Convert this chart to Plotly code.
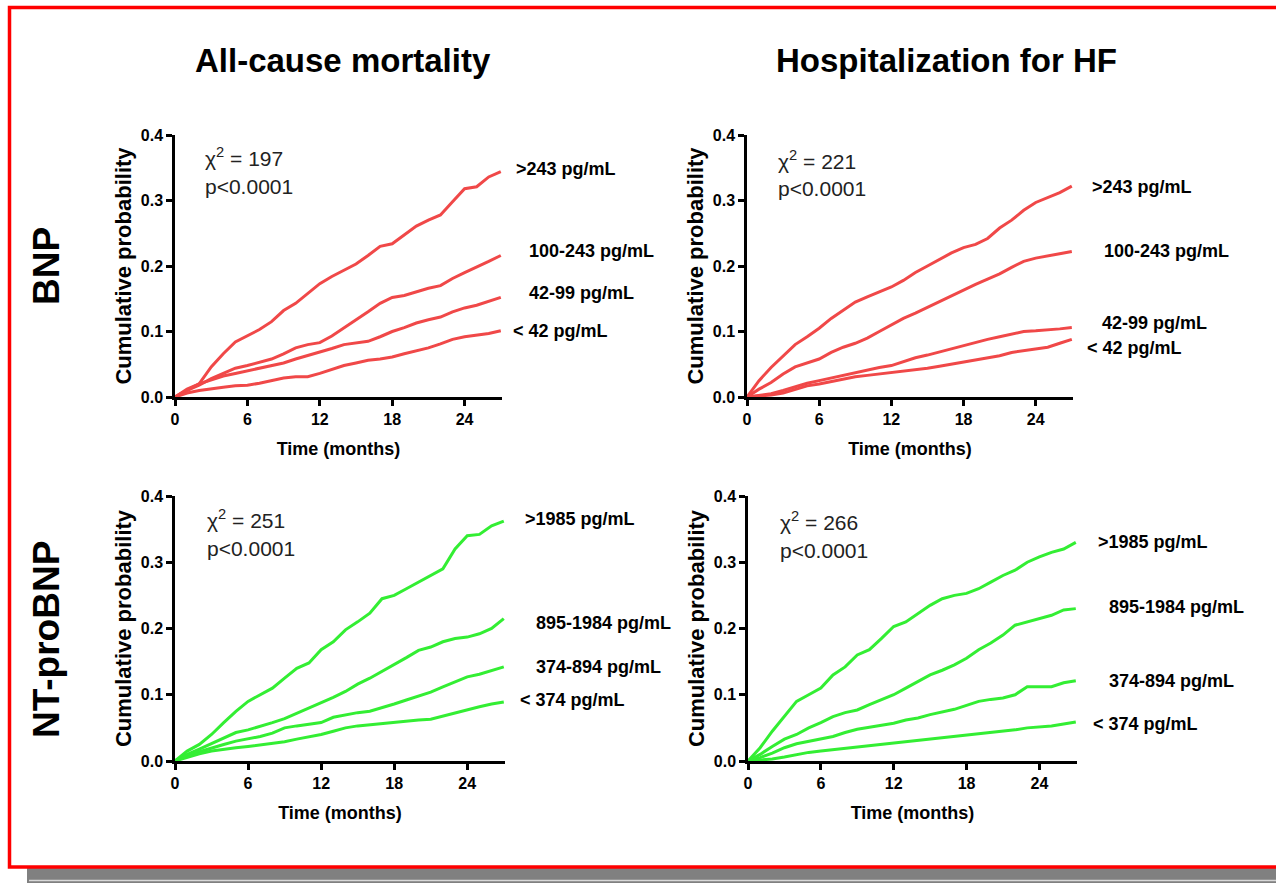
import plotly.graph_objects as go

# ---------------- data ----------------
months = [0, 1, 2, 3, 4, 5, 6, 7, 8, 9, 10, 11, 12, 13, 14, 15, 16, 17, 18, 19, 20,
          21, 22, 23, 24, 25, 26, 27]

# BNP - all-cause mortality
bnp_mort_gt243 = [0, 0.01, 0.02, 0.046, 0.066, 0.084, 0.094, 0.103, 0.115, 0.132, 0.143, 0.158,
                  0.173, 0.184, 0.193, 0.203, 0.216, 0.230, 0.234, 0.247, 0.261, 0.270, 0.278,
                  0.298, 0.318, 0.321, 0.336, 0.344]
bnp_mort_100_243 = [0, 0.01, 0.018, 0.028, 0.036, 0.044, 0.048, 0.053, 0.058, 0.066, 0.075, 0.080,
                    0.083, 0.093, 0.105, 0.118, 0.130, 0.143, 0.152, 0.155, 0.161, 0.166, 0.170,
                    0.181, 0.190, 0.198, 0.207, 0.216]
bnp_mort_42_99 = [0, 0.012, 0.020, 0.026, 0.032, 0.036, 0.040, 0.043, 0.047, 0.052, 0.058, 0.063,
                  0.068, 0.074, 0.080, 0.082, 0.085, 0.092, 0.100, 0.106, 0.113, 0.118, 0.122,
                  0.130, 0.136, 0.140, 0.146, 0.152]
bnp_mort_lt42 = [0, 0.006, 0.010, 0.013, 0.015, 0.017, 0.018, 0.021, 0.025, 0.029, 0.031, 0.031,
                 0.036, 0.042, 0.048, 0.052, 0.056, 0.058, 0.061, 0.066, 0.070, 0.075, 0.081,
                 0.088, 0.092, 0.094, 0.097, 0.101]

# BNP - hospitalization for HF
bnp_hosp_gt243 = [0, 0.025, 0.045, 0.063, 0.080, 0.092, 0.105, 0.120, 0.133, 0.145, 0.153, 0.160,
                  0.168, 0.178, 0.190, 0.200, 0.210, 0.220, 0.228, 0.233, 0.242, 0.258, 0.270,
                  0.285, 0.297, 0.305, 0.312, 0.322]
bnp_hosp_100_243 = [0, 0.012, 0.022, 0.035, 0.046, 0.052, 0.058, 0.068, 0.076, 0.082, 0.090, 0.100,
                    0.110, 0.120, 0.128, 0.137, 0.145, 0.154, 0.163, 0.172, 0.180, 0.188, 0.198,
                    0.207, 0.212, 0.215, 0.218, 0.222]
bnp_hosp_42_99 = [0, 0.002, 0.005, 0.010, 0.016, 0.021, 0.025, 0.029, 0.033, 0.037, 0.042, 0.045,
                  0.048, 0.054, 0.060, 0.064, 0.069, 0.074, 0.079, 0.084, 0.088, 0.092, 0.096,
                  0.100, 0.101, 0.102, 0.104, 0.106]
bnp_hosp_lt42 = [0, 0.001, 0.003, 0.006, 0.012, 0.017, 0.020, 0.024, 0.028, 0.031, 0.033, 0.035,
                 0.037, 0.040, 0.042, 0.044, 0.047, 0.050, 0.053, 0.057, 0.060, 0.063, 0.068,
                 0.071, 0.073, 0.076, 0.082, 0.088]

# NT-proBNP - all-cause mortality
nt_mort_gt1985 = [0, 0.015, 0.025, 0.040, 0.058, 0.075, 0.090, 0.100, 0.110, 0.125, 0.140, 0.148,
                  0.168, 0.180, 0.198, 0.210, 0.223, 0.245, 0.250, 0.260, 0.270, 0.280, 0.290,
                  0.320, 0.340, 0.342, 0.355, 0.362]
nt_mort_895_1984 = [0, 0.010, 0.018, 0.026, 0.035, 0.043, 0.047, 0.052, 0.058, 0.064, 0.072, 0.080,
                    0.087, 0.096, 0.105, 0.116, 0.125, 0.135, 0.145, 0.156, 0.167, 0.172, 0.180,
                    0.185, 0.187, 0.192, 0.200, 0.215]
nt_mort_374_894 = [0, 0.008, 0.014, 0.020, 0.025, 0.030, 0.033, 0.037, 0.042, 0.050, 0.053, 0.055,
                   0.058, 0.066, 0.070, 0.073, 0.075, 0.080, 0.086, 0.092, 0.098, 0.104, 0.112,
                   0.120, 0.127, 0.131, 0.137, 0.142]
nt_mort_lt374 = [0, 0.006, 0.011, 0.015, 0.018, 0.020, 0.022, 0.024, 0.026, 0.029, 0.033, 0.036,
                 0.040, 0.045, 0.050, 0.053, 0.055, 0.057, 0.058, 0.060, 0.062, 0.063, 0.068,
                 0.073, 0.078, 0.082, 0.086, 0.089]

# NT-proBNP - hospitalization for HF
nt_hosp_gt1985 = [0, 0.020, 0.045, 0.068, 0.090, 0.100, 0.110, 0.130, 0.142, 0.160, 0.168, 0.185,
                  0.203, 0.210, 0.222, 0.235, 0.245, 0.250, 0.253, 0.260, 0.270, 0.280, 0.288,
                  0.300, 0.308, 0.315, 0.320, 0.330]
nt_hosp_895_1984 = [0, 0.010, 0.022, 0.033, 0.040, 0.050, 0.058, 0.067, 0.073, 0.077, 0.085, 0.093,
                    0.100, 0.110, 0.120, 0.130, 0.137, 0.145, 0.155, 0.168, 0.178, 0.190, 0.205,
                    0.210, 0.215, 0.220, 0.228, 0.230]
nt_hosp_374_894 = [0, 0.005, 0.012, 0.020, 0.026, 0.030, 0.033, 0.037, 0.043, 0.048, 0.051, 0.054,
                   0.057, 0.062, 0.065, 0.070, 0.074, 0.078, 0.084, 0.090, 0.093, 0.095, 0.100,
                   0.112, 0.112, 0.112, 0.118, 0.121]
nt_hosp_lt374 = [0, 0.001, 0.003, 0.006, 0.010, 0.013, 0.015, 0.017, 0.019, 0.021, 0.023, 0.024,
                 0.026, 0.028, 0.030, 0.032, 0.035, 0.037, 0.039, 0.041, 0.043, 0.045, 0.047,
                 0.050, 0.051, 0.053, 0.056, 0.059]

bnp_labels = [">243 pg/mL", "100-243 pg/mL", "42-99 pg/mL", "< 42 pg/mL"]
nt_labels = [">1985 pg/mL", "895-1984 pg/mL", "374-894 pg/mL", "< 374 pg/mL"]
col_titles = ["All-cause mortality", "Hospitalization for HF"]
row_titles = ["BNP", "NT-proBNP"]
chi_values = [197, 221, 251, 266]
p_text = "p<0.0001"
x_ticks = [0, 6, 12, 18, 24]
y_ticks = [0.0, 0.1, 0.2, 0.3, 0.4]

RED = "#f04848"
GREEN = "#33ee33"

W, H = 1276, 885


def px(x):
    return x / W


def py(y):
    return 1 - y / H


panels = [
    dict(series=[bnp_mort_gt243, bnp_mort_100_243, bnp_mort_42_99, bnp_mort_lt42],
         labels=bnp_labels, color=RED, xd=(175, 502), yd=(397, 135),
         lab=[(514, 169), (527, 251), (527, 293), (511, 331)], chi=(203, 157), chiv=chi_values[0]),
    dict(series=[bnp_hosp_gt243, bnp_hosp_100_243, bnp_hosp_42_99, bnp_hosp_lt42],
         labels=bnp_labels, color=RED, xd=(747, 1073), yd=(397, 135),
         lab=[(1090, 187), (1102, 251), (1100, 323), (1085, 348)], chi=(776, 160), chiv=chi_values[1]),
    dict(series=[nt_mort_gt1985, nt_mort_895_1984, nt_mort_374_894, nt_mort_lt374],
         labels=nt_labels, color=GREEN, xd=(175, 505), yd=(761, 496),
         lab=[(523, 519), (534, 623), (534, 667), (518, 700)], chi=(205, 519), chiv=chi_values[2]),
    dict(series=[nt_hosp_gt1985, nt_hosp_895_1984, nt_hosp_374_894, nt_hosp_lt374],
         labels=nt_labels, color=GREEN, xd=(748, 1077), yd=(761, 496),
         lab=[(1096, 542), (1107, 607), (1107, 681), (1091, 724)], chi=(778, 521), chiv=chi_values[3]),
]

fig = go.Figure()
annotations = []
FONT_N = "Liberation Sans Narrow, Arial Narrow, Liberation Sans, Arial, sans-serif"
FONT = "Liberation Sans, Arial, sans-serif"

for i, p in enumerate(panels):
    xa = "x" if i == 0 else f"x{i+1}"
    ya = "y" if i == 0 else f"y{i+1}"
    for s in p["series"]:
        fig.add_trace(go.Scatter(x=months, y=s, mode="lines", xaxis=xa, yaxis=ya,
                                 line=dict(color=p["color"], width=3),
                                 showlegend=False, hoverinfo="skip", cliponaxis=False))
    axis_common = dict(showgrid=False, zeroline=False, showline=True, linecolor="black",
                       linewidth=2.5, ticks="outside", ticklen=6, tickwidth=2.5, tickcolor="black",
                       automargin=False,
                       tickfont=dict(family=FONT_N, size=16, color="black", weight="bold"))
    xkey = "xaxis" if i == 0 else f"xaxis{i+1}"
    ykey = "yaxis" if i == 0 else f"yaxis{i+1}"
    fig.update_layout(**{
        xkey: dict(domain=[px(p["xd"][0]), px(p["xd"][1])], range=[0, 27.1], anchor=ya,
                   tickvals=x_ticks, ticktext=[str(t) for t in x_ticks],
                   title=dict(text="<b>Time (months)</b>", standoff=16,
                              font=dict(family=FONT_N, size=18, color="black")),
                   **axis_common),
        ykey: dict(domain=[py(p["yd"][0]), py(p["yd"][1])], range=[0, 0.4], anchor=xa,
                   tickvals=y_ticks, ticktext=[f"{t:.1f}" for t in y_ticks],
                   title=dict(text="<b>Cumulative probability</b>", standoff=4,
                              font=dict(family=FONT, size=22, color="black")),
                   **axis_common),
    })
    for lbl, (lx, ly) in zip(p["labels"], p["lab"]):
        annotations.append(dict(x=px(lx), y=py(ly), xref="paper", yref="paper", text=f"<b>{lbl}</b>",
                                showarrow=False, xanchor="left", yanchor="middle",
                                font=dict(family=FONT_N, size=18, color="black")))
    cx, cy = p["chi"]
    annotations.append(dict(x=px(cx), y=py(cy), xref="paper", yref="paper",
                            text=f"χ<sup>2</sup> = {p['chiv']}", showarrow=False,
                            xanchor="left", yanchor="middle",
                            font=dict(family=FONT_N, size=21, color="#222222")))
    annotations.append(dict(x=px(cx), y=py(cy + 29), xref="paper", yref="paper",
                            text=p_text, showarrow=False, xanchor="left", yanchor="middle",
                            font=dict(family=FONT_N, size=21, color="#222222")))

# column titles
for t, cx in zip(col_titles, [343, 946]):
    annotations.append(dict(x=px(cx), y=py(60), xref="paper", yref="paper", text=f"<b>{t}</b>",
                            showarrow=False, xanchor="center", yanchor="middle",
                            font=dict(family=FONT_N, size=33, color="black")))
# row titles
for t, cy in zip(row_titles, [266, 640]):
    annotations.append(dict(x=px(46), y=py(cy), xref="paper", yref="paper", text=f"<b>{t}</b>",
                            showarrow=False, xanchor="center", yanchor="middle", textangle=-90,
                            font=dict(family=FONT, size=37, color="black")))

shapes = [
    dict(type="rect", xref="paper", yref="paper", x0=px(27), x1=px(1290), y0=py(883), y1=py(868),
         fillcolor="#808080", line=dict(width=0), layer="below"),
    dict(type="line", xref="paper", yref="paper", x0=px(29), x1=px(1290), y0=py(880.5), y1=py(880.5),
         line=dict(color="#d8d8d8", width=1.5)),
    dict(type="rect", xref="paper", yref="paper", x0=px(9.5), x1=px(1300), y0=py(867), y1=py(7.5),
         line=dict(color="#ff0000", width=3.5), fillcolor="rgba(0,0,0,0)"),
]

fig.update_layout(width=W, height=H, margin=dict(l=0, r=0, t=0, b=0, pad=0, autoexpand=False),
                  paper_bgcolor="white", plot_bgcolor="white",
                  annotations=annotations, shapes=shapes, showlegend=False)

fig.write_html("out.html", config={"displayModeBar": False},
               post_script="document.body.style.margin='0';document.body.style.padding='0';"
                           "document.body.style.overflow='hidden';")
